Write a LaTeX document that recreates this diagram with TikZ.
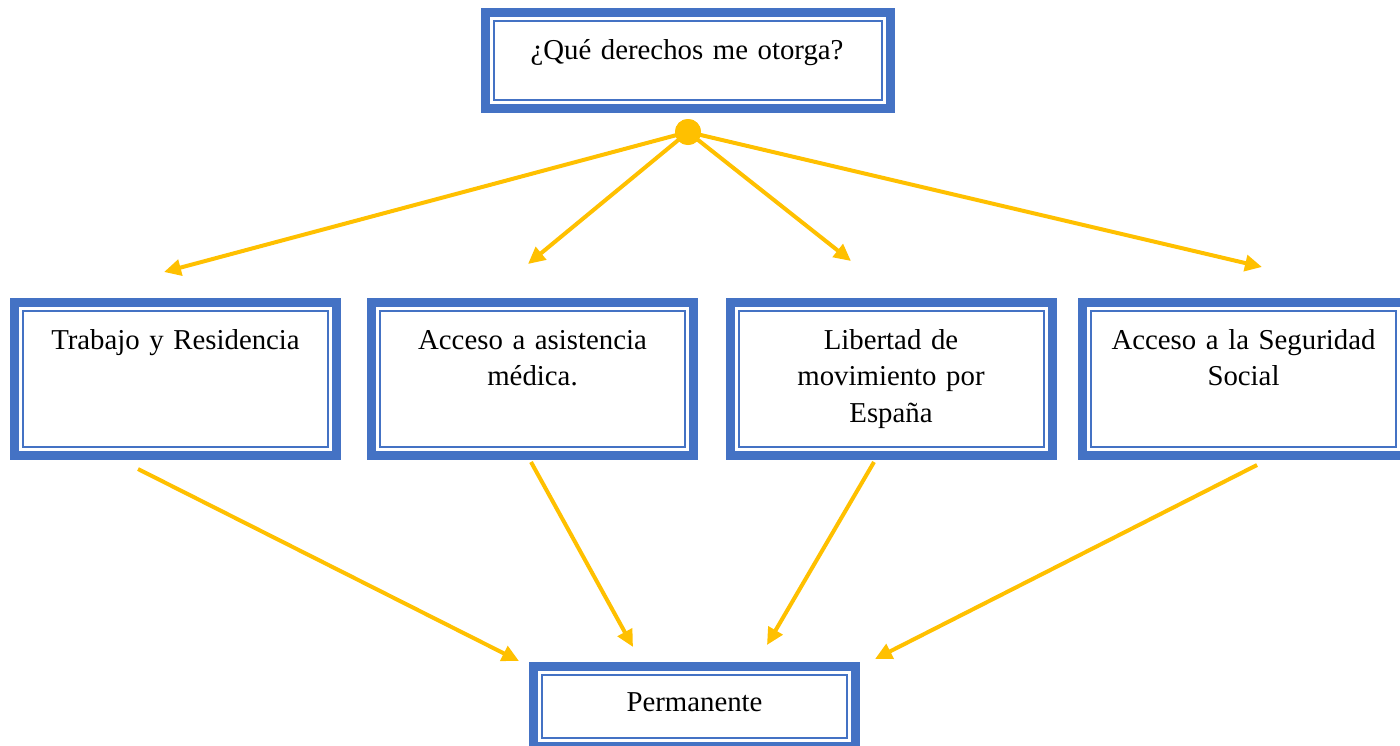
\documentclass[tikz,border=0pt]{standalone}
\usepackage{fontspec}
\setmainfont{Liberation Serif}
\usetikzlibrary{arrows.meta}
\definecolor{frameblue}{HTML}{4472C4}
\definecolor{gold}{HTML}{FFC000}
\tikzset{
  framebox/.style={rectangle, draw=frameblue, line width=9pt, fill=white, inner sep=0pt,
    minimum width=322pt, minimum height=153pt,
    path picture={\draw[frameblue, line width=2pt]
      ([xshift=8.5pt,yshift=-8.5pt]path picture bounding box.north west) rectangle
      ([xshift=-8.5pt,yshift=8.5pt]path picture bounding box.south east);}},
  label text/.style={anchor=base, inner sep=0pt, text width=320pt, align=center,
    font=\fontsize{28.8pt}{36.6pt}\selectfont},
  link/.style={draw=gold, line width=4pt, -{Triangle[length=17pt,width=16pt]}},
}
\begin{document}
\begin{tikzpicture}[x=1pt,y=-1pt]
\useasboundingbox (0,0) rectangle (1400,745);
% boxes
\node[framebox, minimum width=405pt, minimum height=96pt] (top) at (688,60.5) {};
\node[framebox] (b1) at (175.5,379) {};
\node[framebox] (b2) at (532.5,379) {};
\node[framebox] (b3) at (891,379) {};
\node[framebox] (b4) at (1243.5,379) {};
\node[framebox, minimum height=80pt] (perm) at (694.5,706.5) {};
% texts
\node[label text] (ttop) at (687,59) {¿Qué derechos me otorga?};
\node[label text] (t1) at (175.5,349) {Trabajo y Residencia};
\node[label text] (t2) at (532.5,349) {Acceso a asistencia\\médica.};
\node[label text] (t3) at (891,349) {Libertad de\\movimiento por\\España};
\node[label text] (t4) at (1243.5,349) {Acceso a la Seguridad\\Social};
\node[label text] (tperm) at (694.5,711) {Permanente};
% hub
\node[circle, fill=gold, minimum size=26pt, inner sep=0pt] (dot) at (688,132) {};
% free ends
\coordinate (e1) at (164,272);
\coordinate (e2) at (528,264);
\coordinate (e3) at (851,261);
\coordinate (e4) at (1262,267);
\coordinate (s1) at (138,469);
\coordinate (s2) at (531,462);
\coordinate (s3) at (874,462);
\coordinate (s4) at (1257,465);
\coordinate (p1) at (519,661);
\coordinate (p2) at (633,647);
\coordinate (p3) at (767,645);
\coordinate (p4) at (875,659);
% connectors
\draw[link] (dot.center) -- (e1);
\draw[link] (dot.center) -- (e2);
\draw[link] (dot.center) -- (e3);
\draw[link] (dot.center) -- (e4);
\node[circle, fill=gold, minimum size=26pt, inner sep=0pt] at (dot) {};
\draw[link] (s1) -- (p1);
\draw[link] (s2) -- (p2);
\draw[link] (s3) -- (p3);
\draw[link] (s4) -- (p4);
\end{tikzpicture}
\end{document}
